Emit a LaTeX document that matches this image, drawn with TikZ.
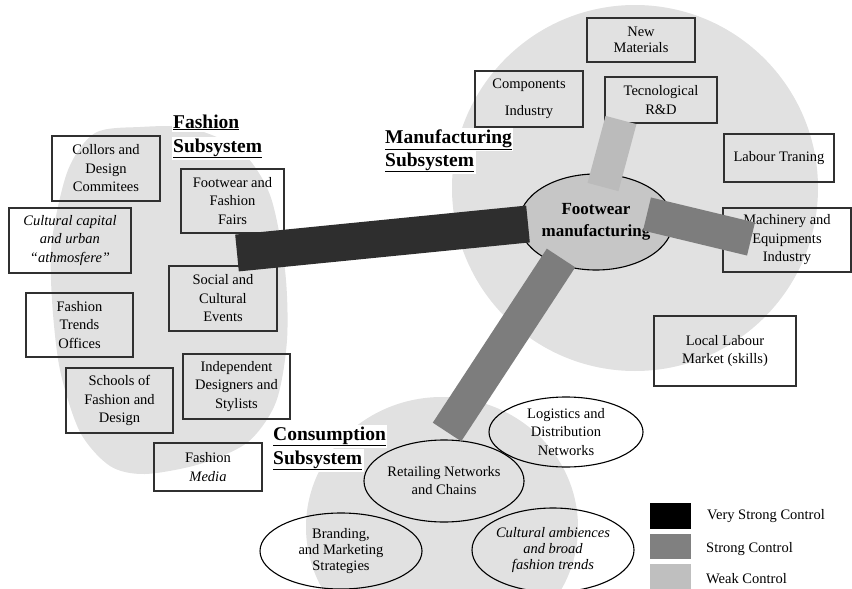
\documentclass[tikz,border=0pt]{standalone}
\usepackage{fontspec}
\setmainfont{Liberation Serif}
\usetikzlibrary{shapes.geometric}
\definecolor{bgray}{HTML}{E1E1E1}
\definecolor{ellgray}{HTML}{C6C6C6}
\definecolor{vsc}{HTML}{2E2E2E}
\definecolor{sc}{HTML}{7D7D7D}
\definecolor{wc}{HTML}{BBBBBB}
\definecolor{lgvs}{HTML}{000000}
\definecolor{lgs}{HTML}{808080}
\definecolor{lgw}{HTML}{BFBFBF}
\definecolor{boxline}{HTML}{303030}
\begin{document}
\begin{tikzpicture}[x=1pt,y=-1pt,
  fbox/.style={draw=boxline, line width=1.1pt, align=center, inner sep=0pt, font=\fontsize{14.5}{18.5}\selectfont},
  fell/.style={ellipse, draw=black, line width=1.1pt, align=center, inner sep=0pt, font=\fontsize{14.5}{18}\selectfont},
  ttl/.style={anchor=base west, fill=white, inner sep=1.5pt, font=\fontsize{19.5}{24}\selectfont\bfseries},
  barvs/.style={draw=vsc, line width=37pt, line cap=butt},
  bars/.style={draw=sc, line width=34pt, line cap=butt},
  barw/.style={draw=wc, line width=32pt, line cap=butt},
  lgsq/.style={minimum width=41pt, inner sep=0pt},
  lgtxt/.style={anchor=west, inner sep=0pt, font=\fontsize{14.5}{18}\selectfont}
]
\path[use as bounding box] (0,0) rectangle (852,589);

% background subsystem areas
\fill[bgray] plot[smooth cycle] coordinates {(140,127) (95,133) (68,170) (52,240) (52,300) (60,370) (80,432) (110,466) (145,474) (200,464) (248,442) (276,402) (287,340) (285,270) (270,195) (240,150) (190,128)};
\fill[bgray] (635,188) circle [radius=183];
\fill[bgray] (442,527) ellipse [x radius=136, y radius=130];

% central node
\node[fell, fill=ellgray, minimum width=148pt, minimum height=96pt,
      font=\fontsize{17}{22}\selectfont\bfseries] (fm) at (596,222) {Footwear\\manufacturing};

% fashion subsystem
\node[ttl] (ft1) at (171.5,128) {\underline{Fashion}};
\node[ttl] (ft2) at (171.5,152) {\underline{Subsystem}};
\node[fbox, minimum width=108pt, minimum height=65pt] (collors) at (106,168.5) {Collors and\\Design\\Commitees};
\node[fbox, minimum width=122pt, minimum height=65pt, font=\fontsize{14.5}{18.5}\selectfont\itshape] (cultcap) at (70,240.5) {Cultural capital\\and urban\\“athmosfere”};
\node[fbox, minimum width=103pt, minimum height=64pt] (fairs) at (232.5,201) {Footwear and\\Fashion\\Fairs};
\node[fbox, minimum width=108pt, minimum height=65pt] (social) at (223,298.5) {Social and\\Cultural\\Events};
\node[fbox, minimum width=107pt, minimum height=64pt] (trends) at (79.5,325) {Fashion\\Trends\\Offices};
\node[fbox, minimum width=107pt, minimum height=65pt] (schools) at (119.5,400.5) {Schools of\\Fashion and\\Design};
\node[fbox, minimum width=107pt, minimum height=65pt] (indep) at (236.5,386.5) {Independent\\Designers and\\Stylists};
\node[fbox, minimum width=108pt, minimum height=48pt] (media) at (208,467) {Fashion\\\textit{Media}};

% manufacturing subsystem
\node[ttl] (mt1) at (383.5,143) {\underline{Manufacturing}};
\node[ttl] (mt2) at (383.5,166) {\underline{Subsystem}};
\node[fbox, minimum width=108pt, minimum height=44pt, font=\fontsize{14.5}{16}\selectfont] (newmat) at (641,40) {New\\Materials};
\node[fbox, minimum width=108pt, minimum height=56pt] (compon) at (529,99) {Components\\[8.5pt]Industry};
\node[fbox, minimum width=112pt, minimum height=46pt] (rnd) at (661,100) {Tecnological\\R\&D};
\node[fbox, minimum width=110pt, minimum height=48pt] (labtr) at (779,158) {Labour Traning};
\node[fbox, minimum width=128pt, minimum height=64pt] (mach) at (787,240) {Machinery and\\Equipments\\Industry};
\node[fbox, minimum width=142pt, minimum height=70pt] (local) at (725,351) {Local Labour\\Market (skills)};

% consumption subsystem
\node[ttl] (ct1) at (271.5,440) {\underline{Consumption}};
\node[ttl] (ct2) at (271.5,464) {\underline{Subsystem}};
\node[fell, minimum width=146pt, minimum height=82pt] (retail) at (444,481) {Retailing Networks\\and Chains};
\node[fell, minimum width=154pt, minimum height=70pt, font=\fontsize{14.5}{18.5}\selectfont] (logis) at (566,432) {Logistics and\\Distribution\\Networks};
\node[fell, minimum width=162pt, minimum height=84pt, font=\fontsize{14.5}{16}\selectfont\itshape] (cultamb) at (553,550) {Cultural ambiences\\and broad\\fashion trends};
\node[fell, minimum width=162pt, minimum height=76pt, font=\fontsize{14.5}{16}\selectfont] (brand) at (341,551) {Branding,\\and Marketing\\Strategies};

% control bars
\coordinate (vsA) at (237,253);
\coordinate (vsB) at (528,224);
\coordinate (wA) at (621,120);
\coordinate (wB) at (603,187);
\coordinate (sA) at (647,214);
\coordinate (sB) at (751,239);
\coordinate (rA) at (561,258);
\coordinate (rB) at (447,432);
\draw[barvs] (vsA) -- (vsB);
\draw[barw] (wA) -- (wB);
\draw[bars] (sA) -- (sB);
\draw[bars] (rA) -- (rB);

% legend
\node[lgsq, fill=lgvs, minimum height=26pt] (lg1) at (670.5,516) {};
\node[lgsq, fill=lgs, minimum height=25pt] (lg2) at (670.5,546.5) {};
\node[lgsq, fill=lgw, minimum height=25pt] (lg3) at (670.5,576.5) {};
\node[lgtxt] (lt1) at (707,516) {Very Strong Control};
\node[lgtxt] (lt2) at (706,549) {Strong Control};
\node[lgtxt] (lt3) at (706,579) {Weak Control};
\end{tikzpicture}
\end{document}
